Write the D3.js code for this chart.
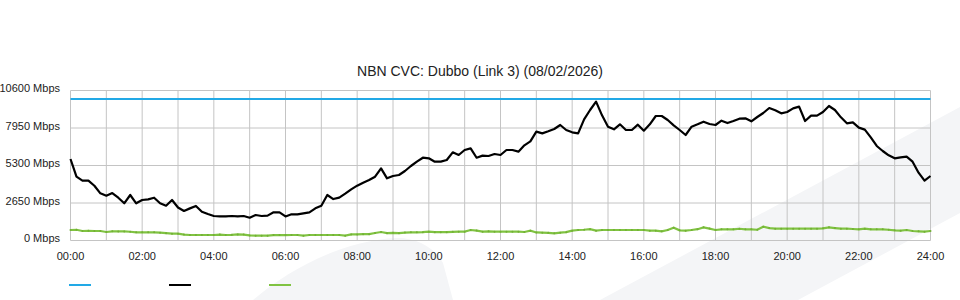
<!DOCTYPE html>
<html>
<head>
<meta charset="utf-8">
<script src="https://cdn.jsdelivr.net/npm/d3@7"></script>
<style>
  html, body { margin: 0; padding: 0; background: #fff; }
  svg { display: block; font-family: "Liberation Sans", Arial, sans-serif; }
</style>
</head>
<body>
<svg id="chart" width="960" height="300"></svg>
<script>
const title = 'NBN CVC: Dubbo (Link 3) (08/02/2026)';
const sampleMinutes = 10; // one reading every 10 minutes, 00:00 -> 24:00
const yTicks = [0, 2650, 5300, 7950, 10600];
const xTickHours = [0, 2, 4, 6, 8, 10, 12, 14, 16, 18, 20, 22, 24];
const capacity = 10000;

// traffic (Mbps)
const traffic = [
  5760, 4510, 4230, 4230, 3870, 3335, 3165, 3350, 3025, 2630, 3215, 2630, 2860, 2910, 3025, 2630, 2460, 2860, 2330, 2085,
  2270, 2440, 2030, 1870, 1730, 1700, 1700, 1730, 1700, 1730, 1610, 1800, 1730, 1760, 1990, 1990, 1700,
  1850, 1850, 1920, 1990, 2273, 2460, 3215, 2930, 3030, 3310, 3616, 3875, 4087, 4275, 4510, 5100, 4393, 4560, 4629, 4912,
  5265, 5571, 5850, 5807, 5571, 5571, 5689, 6231, 6042, 6396, 6513, 5850, 5995, 5970, 6113, 6042,
  6396, 6396, 6278, 6725, 7000, 7691, 7573, 7715, 7880, 8162, 7809, 7644, 7573, 8563, 9223, 9811, 8845, 8045, 7856, 8210,
  7809, 7809, 8186, 7762, 8210, 8798, 8798, 8516, 8139, 7809, 7456, 8045, 8210, 8398, 8233, 8162,
  8469, 8300, 8445, 8610, 8633, 8420, 8727, 9010, 9364, 9200, 8987, 9080, 9340, 9458, 8445, 8822, 8822, 9080, 9505, 9222,
  8704, 8280, 8351, 7974, 7833, 7290, 6680, 6325, 6018, 5807, 5877, 5924, 5571, 4794, 4228, 4558
];

// second series (Mbps)
const upload = [
  742, 760, 671, 690, 671, 671, 600, 650, 640, 640, 620, 577, 577, 577, 577, 550, 520, 483, 483, 420,
  389, 389, 389, 389, 389, 420, 389, 400, 430, 420, 360, 341, 341, 341, 380, 380, 380,
  389, 389, 340, 389, 389, 389, 389, 389, 389, 340, 430, 430, 450, 450, 530, 600, 520, 540, 520, 560,
  580, 580, 590, 624, 590, 590, 590, 610, 624, 624, 740, 700, 624, 650, 624, 624,
  624, 624, 624, 600, 695, 570, 553, 540, 506, 553, 590, 695, 742, 760, 800, 695, 742, 742, 742, 742,
  742, 742, 742, 742, 695, 695, 650, 742, 900, 720, 695, 742, 800, 930, 840, 742,
  789, 789, 789, 830, 789, 789, 760, 977, 880, 836, 836, 836, 836, 836, 836, 836, 836, 860, 930, 880,
  836, 836, 813, 789, 836, 789, 789, 789, 760, 720, 695, 742, 671, 650, 624, 671
];

const legendColors = ['#22a9e6', '#000000', '#80c342'];

const svg = d3.select('#chart');

// faint background shapes
svg.append('path')
  .attr('d', 'M600,300 L960,107 L960,213 L798,300 Z')
  .attr('fill', '#f4f5f7');
svg.append('path')
  .attr('d', 'M253,300 C290,268 345,240 397,238 C420,238 436,250 443,263 L453,300 Z')
  .attr('fill', '#f4f5f7');

const x = d3.scaleLinear().domain([0, 24 * 60]).range([70.5, 930.5]);
const y = d3.scaleLinear().domain([0, 10600]).range([240.5, 90.5]);

const grid = svg.append('g').attr('stroke', '#c4c4c4').attr('stroke-width', 1);
grid.selectAll('.vg')
  .data(d3.range(0, 25))
  .enter()
  .append('line')
  .attr('x1', d => x(d * 60))
  .attr('x2', d => x(d * 60))
  .attr('y1', y(10600))
  .attr('y2', y(0));
grid.selectAll('.hg')
  .data(yTicks)
  .enter()
  .append('line')
  .attr('x1', x(0))
  .attr('x2', x(24 * 60))
  .attr('y1', d => y(d))
  .attr('y2', d => y(d));

// axis labels
svg.append('g')
  .selectAll('text')
  .data(yTicks)
  .enter()
  .append('text')
  .attr('x', 60)
  .attr('y', d => y(d) + 1.5)
  .attr('text-anchor', 'end')
  .attr('font-size', 11)
  .attr('fill', '#222')
  .text(d => `${d} Mbps`);

svg.append('g')
  .selectAll('text')
  .data(xTickHours)
  .enter()
  .append('text')
  .attr('x', d => x(d * 60))
  .attr('y', 260)
  .attr('text-anchor', 'middle')
  .attr('font-size', 11)
  .attr('fill', '#222')
  .text(d => `${String(d).padStart(2, '0')}:00`);

svg.append('text')
  .attr('x', 480)
  .attr('y', 75.5)
  .attr('text-anchor', 'middle')
  .attr('font-size', 14)
  .attr('fill', '#222')
  .text(title);

const line = d3.line()
  .x((d, i) => x(i * sampleMinutes))
  .y(d => y(d));

svg.append('line')
  .attr('x1', x(0))
  .attr('x2', x(24 * 60))
  .attr('y1', y(capacity))
  .attr('y2', y(capacity))
  .attr('stroke', legendColors[0])
  .attr('stroke-width', 2);

svg.append('path')
  .datum(upload)
  .attr('d', line)
  .attr('fill', 'none')
  .attr('stroke', legendColors[2])
  .attr('stroke-width', 2.2);

svg.append('g')
  .selectAll('circle')
  .data(upload)
  .enter()
  .append('circle')
  .attr('cx', (d, i) => x(i * sampleMinutes))
  .attr('cy', d => y(d))
  .attr('r', 1)
  .attr('fill', '#72b035');

svg.append('path')
  .datum(traffic)
  .attr('d', line)
  .attr('fill', 'none')
  .attr('stroke', legendColors[1])
  .attr('stroke-width', 2.2)
  .attr('stroke-linejoin', 'round');

// legend swatches (no labels in the original)
svg.append('g')
  .selectAll('line')
  .data(legendColors)
  .enter()
  .append('line')
  .attr('x1', (d, i) => 69 + i * 100)
  .attr('x2', (d, i) => 91 + i * 100)
  .attr('y1', 285)
  .attr('y2', 285)
  .attr('stroke', d => d)
  .attr('stroke-width', 2);
</script>
</body>
</html>
